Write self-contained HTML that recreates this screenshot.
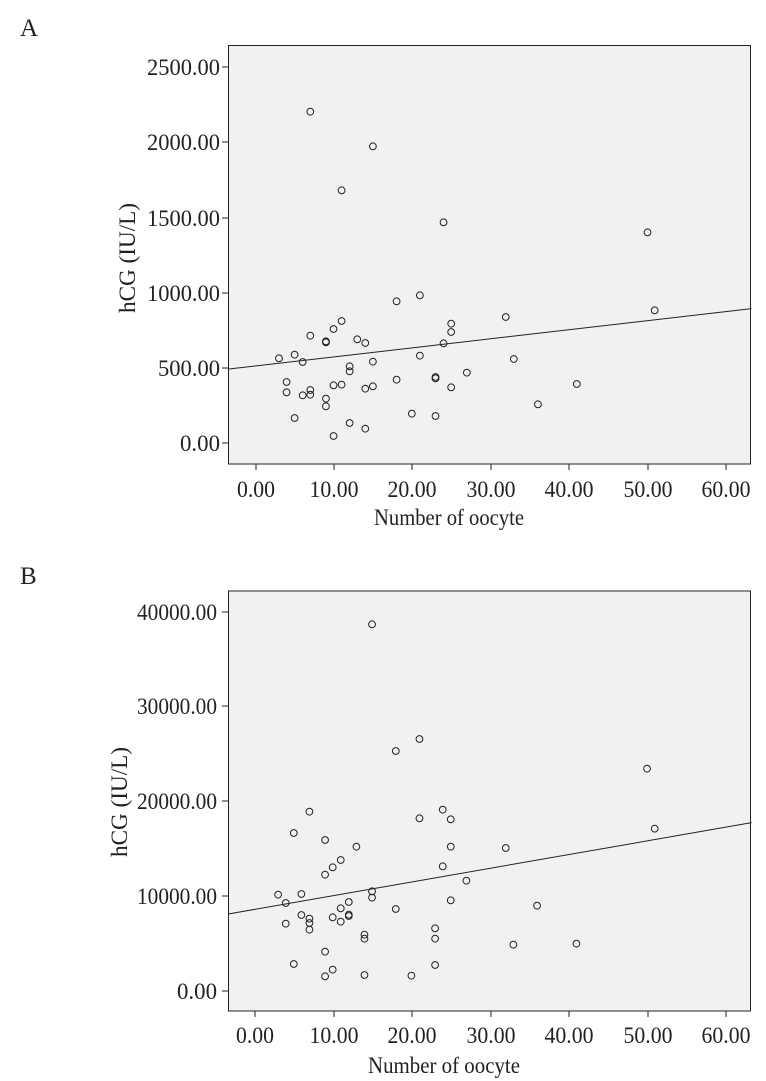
<!DOCTYPE html>
<html><head><meta charset="utf-8"><style>
html,body{margin:0;padding:0;background:#fff;}
svg{display:block;font-family:"Liberation Serif",serif;}
</style></head><body>
<svg width="766" height="1081" viewBox="0 0 766 1081" xmlns="http://www.w3.org/2000/svg">
<text x="20" y="36" font-size="25" fill="#222">A</text>
<text x="20" y="584" font-size="25" fill="#222">B</text>

<!-- Panel A -->
<rect x="228.5" y="45.5" width="522" height="418.5" fill="#f1f1f1" stroke="#222" stroke-width="1"/>
<g stroke="#222" stroke-width="1">
<line x1="222" y1="67" x2="228" y2="67"/><line x1="222" y1="142" x2="228" y2="142"/><line x1="222" y1="218" x2="228" y2="218"/><line x1="222" y1="293" x2="228" y2="293"/><line x1="222" y1="368" x2="228" y2="368"/><line x1="222" y1="443" x2="228" y2="443"/>
<line x1="256" y1="464" x2="256" y2="470"/><line x1="334" y1="464" x2="334" y2="470"/><line x1="412" y1="464" x2="412" y2="470"/><line x1="491" y1="464" x2="491" y2="470"/><line x1="569" y1="464" x2="569" y2="470"/><line x1="648" y1="464" x2="648" y2="470"/><line x1="726" y1="464" x2="726" y2="470"/>
</g>
<g font-size="23" fill="#222" text-anchor="end">
<text x="220" y="75" textLength="73" lengthAdjust="spacingAndGlyphs">2500.00</text>
<text x="220" y="150" textLength="73" lengthAdjust="spacingAndGlyphs">2000.00</text>
<text x="220" y="226" textLength="73" lengthAdjust="spacingAndGlyphs">1500.00</text>
<text x="220" y="301" textLength="73" lengthAdjust="spacingAndGlyphs">1000.00</text>
<text x="220" y="376" textLength="62" lengthAdjust="spacingAndGlyphs">500.00</text>
<text x="220" y="451" textLength="40" lengthAdjust="spacingAndGlyphs">0.00</text>
</g>
<g font-size="23" fill="#222" text-anchor="middle">
<text x="256" y="497" textLength="38" lengthAdjust="spacingAndGlyphs">0.00</text>
<text x="334" y="497" textLength="49" lengthAdjust="spacingAndGlyphs">10.00</text>
<text x="412" y="497" textLength="49" lengthAdjust="spacingAndGlyphs">20.00</text>
<text x="491" y="497" textLength="49" lengthAdjust="spacingAndGlyphs">30.00</text>
<text x="569" y="497" textLength="49" lengthAdjust="spacingAndGlyphs">40.00</text>
<text x="648" y="497" textLength="49" lengthAdjust="spacingAndGlyphs">50.00</text>
<text x="726" y="497" textLength="49" lengthAdjust="spacingAndGlyphs">60.00</text>
<text x="449" y="525" textLength="150" lengthAdjust="spacingAndGlyphs">Number of oocyte</text>
<text transform="translate(135,258) rotate(-90)" textLength="110" lengthAdjust="spacingAndGlyphs">hCG (IU/L)</text>
</g>
<g transform="translate(100,30) scale(0.4231,0.33333)" fill="none" stroke="#222">
<line x1="305" y1="1017" x2="1540" y2="836" stroke-width="1" vector-effect="non-scaling-stroke"/>
<g stroke-width="1" vector-effect="non-scaling-stroke">
<ellipse cx="497" cy="245" rx="8" ry="10.2" vector-effect="non-scaling-stroke"/><ellipse cx="645" cy="349" rx="8" ry="10.2" vector-effect="non-scaling-stroke"/><ellipse cx="571" cy="481" rx="8" ry="10.2" vector-effect="non-scaling-stroke"/><ellipse cx="812" cy="577" rx="8" ry="10.2" vector-effect="non-scaling-stroke"/><ellipse cx="1294" cy="607" rx="8" ry="10.2" vector-effect="non-scaling-stroke"/><ellipse cx="756" cy="796" rx="8" ry="10.2" vector-effect="non-scaling-stroke"/><ellipse cx="701" cy="814" rx="8" ry="10.2" vector-effect="non-scaling-stroke"/><ellipse cx="1311" cy="841" rx="8" ry="10.2" vector-effect="non-scaling-stroke"/><ellipse cx="959" cy="861" rx="8" ry="10.2" vector-effect="non-scaling-stroke"/><ellipse cx="571" cy="873" rx="8" ry="10.2" vector-effect="non-scaling-stroke"/><ellipse cx="830" cy="881" rx="8" ry="10.2" vector-effect="non-scaling-stroke"/><ellipse cx="552" cy="897" rx="8" ry="10.2" vector-effect="non-scaling-stroke"/><ellipse cx="497" cy="917" rx="8" ry="10.2" vector-effect="non-scaling-stroke"/><ellipse cx="830" cy="906" rx="8" ry="10.2" vector-effect="non-scaling-stroke"/><ellipse cx="534" cy="934" rx="8" ry="10.2" vector-effect="non-scaling-stroke"/><ellipse cx="534" cy="937" rx="8" ry="10.2" vector-effect="non-scaling-stroke"/><ellipse cx="608" cy="928" rx="8" ry="10.2" vector-effect="non-scaling-stroke"/><ellipse cx="627" cy="939" rx="8" ry="10.2" vector-effect="non-scaling-stroke"/><ellipse cx="812" cy="940" rx="8" ry="10.2" vector-effect="non-scaling-stroke"/><ellipse cx="423" cy="985" rx="8" ry="10.2" vector-effect="non-scaling-stroke"/><ellipse cx="460" cy="974" rx="8" ry="10.2" vector-effect="non-scaling-stroke"/><ellipse cx="479" cy="996" rx="8" ry="10.2" vector-effect="non-scaling-stroke"/><ellipse cx="756" cy="977" rx="8" ry="10.2" vector-effect="non-scaling-stroke"/><ellipse cx="978" cy="987" rx="8" ry="10.2" vector-effect="non-scaling-stroke"/><ellipse cx="645" cy="995" rx="8" ry="10.2" vector-effect="non-scaling-stroke"/><ellipse cx="590" cy="1009" rx="8" ry="10.2" vector-effect="non-scaling-stroke"/><ellipse cx="590" cy="1024" rx="8" ry="10.2" vector-effect="non-scaling-stroke"/><ellipse cx="867" cy="1028" rx="8" ry="10.2" vector-effect="non-scaling-stroke"/><ellipse cx="793" cy="1041" rx="8" ry="10.2" vector-effect="non-scaling-stroke"/><ellipse cx="793" cy="1045" rx="8" ry="10.2" vector-effect="non-scaling-stroke"/><ellipse cx="441" cy="1056" rx="8" ry="10.2" vector-effect="non-scaling-stroke"/><ellipse cx="701" cy="1049" rx="8" ry="10.2" vector-effect="non-scaling-stroke"/><ellipse cx="1127" cy="1062" rx="8" ry="10.2" vector-effect="non-scaling-stroke"/><ellipse cx="552" cy="1066" rx="8" ry="10.2" vector-effect="non-scaling-stroke"/><ellipse cx="571" cy="1064" rx="8" ry="10.2" vector-effect="non-scaling-stroke"/><ellipse cx="627" cy="1076" rx="8" ry="10.2" vector-effect="non-scaling-stroke"/><ellipse cx="645" cy="1069" rx="8" ry="10.2" vector-effect="non-scaling-stroke"/><ellipse cx="830" cy="1072" rx="8" ry="10.2" vector-effect="non-scaling-stroke"/><ellipse cx="497" cy="1080" rx="8" ry="10.2" vector-effect="non-scaling-stroke"/><ellipse cx="441" cy="1087" rx="8" ry="10.2" vector-effect="non-scaling-stroke"/><ellipse cx="497" cy="1094" rx="8" ry="10.2" vector-effect="non-scaling-stroke"/><ellipse cx="479" cy="1096" rx="8" ry="10.2" vector-effect="non-scaling-stroke"/><ellipse cx="534" cy="1106" rx="8" ry="10.2" vector-effect="non-scaling-stroke"/><ellipse cx="534" cy="1129" rx="8" ry="10.2" vector-effect="non-scaling-stroke"/><ellipse cx="1035" cy="1123" rx="8" ry="10.2" vector-effect="non-scaling-stroke"/><ellipse cx="737" cy="1151" rx="8" ry="10.2" vector-effect="non-scaling-stroke"/><ellipse cx="793" cy="1158" rx="8" ry="10.2" vector-effect="non-scaling-stroke"/><ellipse cx="460" cy="1164" rx="8" ry="10.2" vector-effect="non-scaling-stroke"/><ellipse cx="590" cy="1179" rx="8" ry="10.2" vector-effect="non-scaling-stroke"/><ellipse cx="627" cy="1196" rx="8" ry="10.2" vector-effect="non-scaling-stroke"/><ellipse cx="552" cy="1218" rx="8" ry="10.2" vector-effect="non-scaling-stroke"/>
</g></g>

<!-- Panel B -->
<rect x="228.5" y="591" width="522" height="420" fill="#f1f1f1" stroke="#222" stroke-width="1"/>
<g stroke="#222" stroke-width="1">
<line x1="222" y1="612" x2="228" y2="612"/><line x1="222" y1="706" x2="228" y2="706"/><line x1="222" y1="801" x2="228" y2="801"/><line x1="222" y1="896" x2="228" y2="896"/><line x1="222" y1="991" x2="228" y2="991"/>
<line x1="255" y1="1011" x2="255" y2="1017"/><line x1="334" y1="1011" x2="334" y2="1017"/><line x1="412" y1="1011" x2="412" y2="1017"/><line x1="491" y1="1011" x2="491" y2="1017"/><line x1="569" y1="1011" x2="569" y2="1017"/><line x1="648" y1="1011" x2="648" y2="1017"/><line x1="726" y1="1011" x2="726" y2="1017"/>
</g>
<g font-size="23" fill="#222" text-anchor="end">
<text x="217" y="620" textLength="80" lengthAdjust="spacingAndGlyphs">40000.00</text>
<text x="217" y="714" textLength="80" lengthAdjust="spacingAndGlyphs">30000.00</text>
<text x="217" y="809" textLength="80" lengthAdjust="spacingAndGlyphs">20000.00</text>
<text x="217" y="904" textLength="80" lengthAdjust="spacingAndGlyphs">10000.00</text>
<text x="217" y="999" textLength="40" lengthAdjust="spacingAndGlyphs">0.00</text>
</g>
<g font-size="23" fill="#222" text-anchor="middle">
<text x="255" y="1043" textLength="38" lengthAdjust="spacingAndGlyphs">0.00</text>
<text x="334" y="1043" textLength="49" lengthAdjust="spacingAndGlyphs">10.00</text>
<text x="412" y="1043" textLength="49" lengthAdjust="spacingAndGlyphs">20.00</text>
<text x="491" y="1043" textLength="49" lengthAdjust="spacingAndGlyphs">30.00</text>
<text x="569" y="1043" textLength="49" lengthAdjust="spacingAndGlyphs">40.00</text>
<text x="648" y="1043" textLength="49" lengthAdjust="spacingAndGlyphs">50.00</text>
<text x="726" y="1043" textLength="49" lengthAdjust="spacingAndGlyphs">60.00</text>
<text x="444" y="1073" textLength="152" lengthAdjust="spacingAndGlyphs">Number of oocyte</text>
<text transform="translate(127,802) rotate(-90)" textLength="110" lengthAdjust="spacingAndGlyphs">hCG (IU/L)</text>
</g>
<g transform="translate(100,580) scale(0.4231,0.33333)" fill="none" stroke="#222">
<line x1="303" y1="1002" x2="1540" y2="728" stroke-width="1" vector-effect="non-scaling-stroke"/>
<g stroke-width="1">
<ellipse cx="643" cy="133" rx="8" ry="10.2" vector-effect="non-scaling-stroke"/><ellipse cx="755" cy="477" rx="8" ry="10.2" vector-effect="non-scaling-stroke"/><ellipse cx="699" cy="513" rx="8" ry="10.2" vector-effect="non-scaling-stroke"/><ellipse cx="1293" cy="566" rx="8" ry="10.2" vector-effect="non-scaling-stroke"/><ellipse cx="495" cy="695" rx="8" ry="10.2" vector-effect="non-scaling-stroke"/><ellipse cx="810" cy="689" rx="8" ry="10.2" vector-effect="non-scaling-stroke"/><ellipse cx="755" cy="715" rx="8" ry="10.2" vector-effect="non-scaling-stroke"/><ellipse cx="829" cy="718" rx="8" ry="10.2" vector-effect="non-scaling-stroke"/><ellipse cx="1311" cy="746" rx="8" ry="10.2" vector-effect="non-scaling-stroke"/><ellipse cx="458" cy="759" rx="8" ry="10.2" vector-effect="non-scaling-stroke"/><ellipse cx="532" cy="780" rx="8" ry="10.2" vector-effect="non-scaling-stroke"/><ellipse cx="606" cy="800" rx="8" ry="10.2" vector-effect="non-scaling-stroke"/><ellipse cx="829" cy="800" rx="8" ry="10.2" vector-effect="non-scaling-stroke"/><ellipse cx="959" cy="804" rx="8" ry="10.2" vector-effect="non-scaling-stroke"/><ellipse cx="569" cy="840" rx="8" ry="10.2" vector-effect="non-scaling-stroke"/><ellipse cx="550" cy="862" rx="8" ry="10.2" vector-effect="non-scaling-stroke"/><ellipse cx="810" cy="859" rx="8" ry="10.2" vector-effect="non-scaling-stroke"/><ellipse cx="532" cy="884" rx="8" ry="10.2" vector-effect="non-scaling-stroke"/><ellipse cx="866" cy="902" rx="8" ry="10.2" vector-effect="non-scaling-stroke"/><ellipse cx="643" cy="934" rx="8" ry="10.2" vector-effect="non-scaling-stroke"/><ellipse cx="421" cy="944" rx="8" ry="10.2" vector-effect="non-scaling-stroke"/><ellipse cx="476" cy="942" rx="8" ry="10.2" vector-effect="non-scaling-stroke"/><ellipse cx="643" cy="953" rx="8" ry="10.2" vector-effect="non-scaling-stroke"/><ellipse cx="439" cy="969" rx="8" ry="10.2" vector-effect="non-scaling-stroke"/><ellipse cx="829" cy="961" rx="8" ry="10.2" vector-effect="non-scaling-stroke"/><ellipse cx="588" cy="966" rx="8" ry="10.2" vector-effect="non-scaling-stroke"/><ellipse cx="1033" cy="977" rx="8" ry="10.2" vector-effect="non-scaling-stroke"/><ellipse cx="569" cy="985" rx="8" ry="10.2" vector-effect="non-scaling-stroke"/><ellipse cx="699" cy="987" rx="8" ry="10.2" vector-effect="non-scaling-stroke"/><ellipse cx="588" cy="1004" rx="8" ry="10.2" vector-effect="non-scaling-stroke"/><ellipse cx="588" cy="1008" rx="8" ry="10.2" vector-effect="non-scaling-stroke"/><ellipse cx="476" cy="1005" rx="8" ry="10.2" vector-effect="non-scaling-stroke"/><ellipse cx="550" cy="1012" rx="8" ry="10.2" vector-effect="non-scaling-stroke"/><ellipse cx="495" cy="1016" rx="8" ry="10.2" vector-effect="non-scaling-stroke"/><ellipse cx="495" cy="1029" rx="8" ry="10.2" vector-effect="non-scaling-stroke"/><ellipse cx="569" cy="1025" rx="8" ry="10.2" vector-effect="non-scaling-stroke"/><ellipse cx="439" cy="1031" rx="8" ry="10.2" vector-effect="non-scaling-stroke"/><ellipse cx="495" cy="1049" rx="8" ry="10.2" vector-effect="non-scaling-stroke"/><ellipse cx="792" cy="1045" rx="8" ry="10.2" vector-effect="non-scaling-stroke"/><ellipse cx="625" cy="1064" rx="8" ry="10.2" vector-effect="non-scaling-stroke"/><ellipse cx="625" cy="1076" rx="8" ry="10.2" vector-effect="non-scaling-stroke"/><ellipse cx="792" cy="1076" rx="8" ry="10.2" vector-effect="non-scaling-stroke"/><ellipse cx="977" cy="1094" rx="8" ry="10.2" vector-effect="non-scaling-stroke"/><ellipse cx="1126" cy="1091" rx="8" ry="10.2" vector-effect="non-scaling-stroke"/><ellipse cx="532" cy="1115" rx="8" ry="10.2" vector-effect="non-scaling-stroke"/><ellipse cx="458" cy="1152" rx="8" ry="10.2" vector-effect="non-scaling-stroke"/><ellipse cx="792" cy="1155" rx="8" ry="10.2" vector-effect="non-scaling-stroke"/><ellipse cx="550" cy="1169" rx="8" ry="10.2" vector-effect="non-scaling-stroke"/><ellipse cx="532" cy="1189" rx="8" ry="10.2" vector-effect="non-scaling-stroke"/><ellipse cx="625" cy="1185" rx="8" ry="10.2" vector-effect="non-scaling-stroke"/><ellipse cx="736" cy="1187" rx="8" ry="10.2" vector-effect="non-scaling-stroke"/>
</g></g>
</svg>
</body></html>
